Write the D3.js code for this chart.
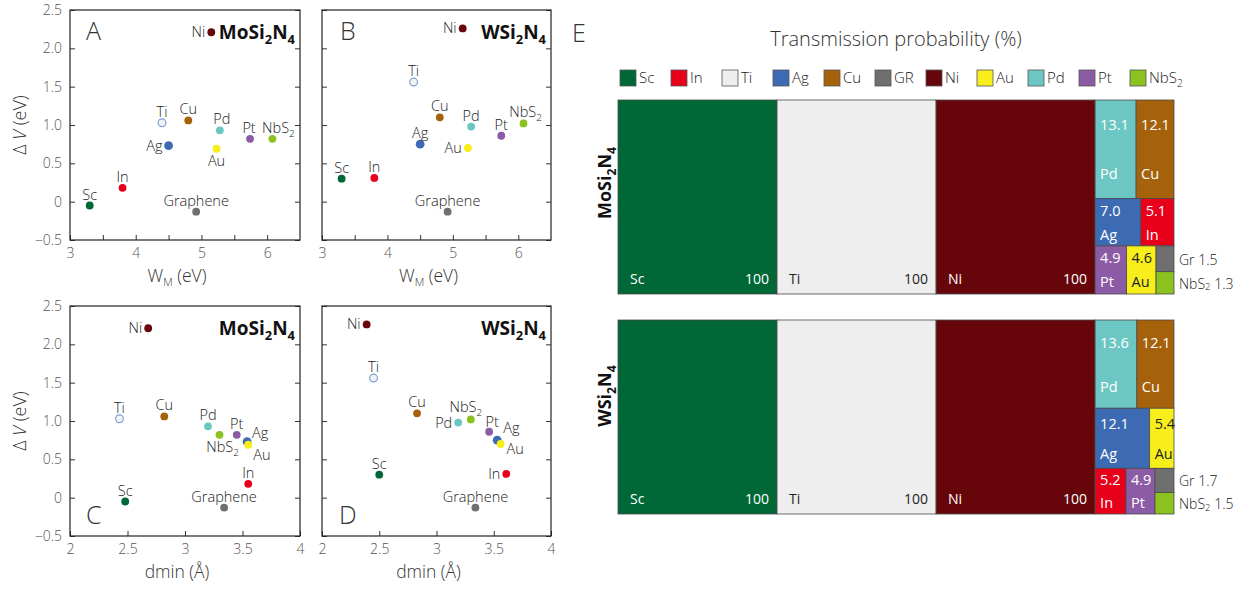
<!DOCTYPE html>
<html>
<head>
<meta charset="utf-8">
<script src="https://cdn.jsdelivr.net/npm/d3@7"></script>
<style>
body { margin: 0; background: #fff; }
svg { font-family: "Open Sans", "Noto Sans", sans-serif; }
.tick text { fill: #555; font-size: 14px; font-weight: 300; font-family: "Open Sans", sans-serif; }
.tick line { stroke: #333; }
</style>
</head>
<body>
<svg id="chart" width="1239" height="592"></svg>
<script>
// contact materials, same order everywhere
var metals = ["Sc","In","Ti","Ag","Cu","Graphene","Ni","Au","Pd","Pt","NbS2"];
var legendNames = ["Sc","In","Ti","Ag","Cu","GR","Ni","Au","Pd","Pt","NbS2"];
// work function W_M (eV)
var workFunc = [3.30, 3.80, 4.40, 4.50, 4.80, 4.92, 5.15, 5.23, 5.28, 5.74, 6.08];
// ΔV (eV)
var dvMo = [-0.05, 0.18, 1.03, 0.73, 1.06, -0.13, 2.21, 0.69, 0.93, 0.82, 0.82];
var dvW  = [ 0.30, 0.31, 1.56, 0.75, 1.10, -0.13, 2.26, 0.70, 0.98, 0.86, 1.02];
// dmin (Å)
var dminMo = [2.48, 3.55, 2.43, 3.54, 2.82, 3.34, 2.68, 3.55, 3.20, 3.45, 3.30];
var dminW  = [2.50, 3.61, 2.45, 3.53, 2.83, 3.34, 2.39, 3.56, 3.19, 3.46, 3.30];

var yTicks = [-0.5, 0, 0.5, 1, 1.5, 2, 2.5];
var wTicks = [3, 3.5, 4, 4.5, 5, 5.5, 6];
var dTicks = [2, 2.5, 3, 3.5, 4];

// transmission probability (%)
var tmNamesMo  = ["Sc","Ti","Ni","Pd","Cu","Ag","In","Pt","Au","Gr","NbS2"];
var tmValuesMo = [100, 100, 100, 13.1, 12.1, 7.0, 5.1, 4.9, 4.6, 1.5, 1.3];
var tmNamesW   = ["Sc","Ti","Ni","Pd","Cu","Ag","Au","In","Pt","Gr","NbS2"];
var tmValuesW  = [100, 100, 100, 13.6, 12.1, 12.1, 5.4, 5.2, 4.9, 1.7, 1.5];
// grouping of the small ones (rows of the right column)
var tmRowsMo = [["Pd","Cu"],["Ag","In"],["Pt","Au",["Gr","NbS2"]]];
var tmRowsW  = [["Pd","Cu"],["Ag","Au"],["In","Pt",["Gr","NbS2"]]];
var tmBig = ["Sc","Ti","Ni"];

var colorOf = {Sc:"#006837", In:"#e8001b", Ti:"#eeeeee", Ag:"#3d6bb3", Cu:"#a5620b",
               Graphene:"#6f6f6f", GR:"#6f6f6f", Gr:"#6f6f6f", Ni:"#66060a", Au:"#f7ee1b",
               Pd:"#6cc6c4", Pt:"#8c5ba6", NbS2:"#8bc21f"};

// label side for each point, per panel
var posA = ["t","t","t","l","t","t","l","b","t","t","t"];
var posB = ["t","t","t","t","t","t","l","l","t","t","t"];
var posC = ["t","t","t","tr","t","t","l","br","t","t","b"];
var posD = ["t","l","t","tr","t","t","l","r","l","t","t"];
// small label shifts where texts crowd
var nudgeA = {NbS2:[6,0], Pd:[2,0], Pt:[-1,0]};
var nudgeB = {NbS2:[2,0]};
var nudgeC = {NbS2:[3,0]};
var nudgeD = {NbS2:[-5,-1], Pt:[3,1], Ag:[1,-3], Au:[0,2]};

var svg = d3.select("#chart");

// text with subscript digits (NbS2, MoSi2N4)
function richText(sel, str, fs) {
    var parts = str.split(/(?<=[A-Za-z])(\d)/);
    var shift = fs * 0.26, down = false;
    parts.forEach(function(p, i) {
        if (p === "") return;
        var sub = i % 2 === 1;
        var t = sel.append("tspan").text(p);
        if (sub) { t.attr("font-size", fs * 0.68); if (!down) t.attr("dy", shift); down = true; }
        else { if (down) t.attr("dy", -shift); down = false; }
    });
    return sel;
}

function scatterPanel(o) {
    var x = d3.scaleLinear().domain(o.xdomain).range([o.left, o.right]);
    var y = d3.scaleLinear().domain([-0.5, 2.5]).range([o.bottom, o.top]);
    var g = svg.append("g");
    var yfmt = function(d){ return d === 0 ? "0" : d3.format(".1f")(d); };

    g.append("g").attr("transform", "translate(" + o.left + ",0)")
        .call(d3.axisLeft(y).tickValues(yTicks).tickSizeInner(-5).tickSizeOuter(0).tickPadding(8)
              .tickFormat(o.showY ? yfmt : ""));
    g.append("g").attr("transform", "translate(" + o.right + ",0)")
        .call(d3.axisRight(y).tickValues(yTicks).tickSizeInner(-5).tickSizeOuter(0).tickFormat(""));
    g.append("g").attr("transform", "translate(0," + o.bottom + ")")
        .call(d3.axisBottom(x).tickValues(o.xticks).tickSizeInner(-5).tickSizeOuter(0).tickPadding(8)
              .tickFormat(o.xfmt));
    g.selectAll(".domain").remove();
    g.append("rect").attr("x", o.left).attr("y", o.top)
        .attr("width", o.right - o.left).attr("height", o.bottom - o.top)
        .attr("fill", "none").attr("stroke", "#222").attr("stroke-width", 1.2);

    metals.forEach(function(m, i) {
        var cx = x(o.xs[i]), cy = y(o.ys[i]);
        g.append("circle").attr("cx", cx).attr("cy", cy).attr("r", m === "Ag" ? 4.4 : 3.9)
            .attr("fill", m === "Ti" ? "#f2f2f2" : colorOf[m])
            .attr("stroke", m === "Ti" ? "#809fd6" : "none").attr("stroke-width", 1.2);
        var p = o.pos[i], tx = cx, ty = cy - 6, anc = "middle";
        if (p === "l") { tx = cx - 6; ty = cy + 5; anc = "end"; }
        if (p === "r") { tx = cx + 6; ty = cy + 8; anc = "start"; }
        if (p === "b") { ty = cy + 17; }
        if (p === "tr") { tx = cx + 5; ty = cy - 4; anc = "start"; }
        if (p === "br") { tx = cx + 5; ty = cy + 15; anc = "start"; }
        var nd = (o.nudge && o.nudge[m]) || [0, 0];
        var t = g.append("text").attr("x", tx + nd[0]).attr("y", ty + nd[1]).attr("text-anchor", anc)
            .attr("font-size", 14.5).attr("font-weight", 300).attr("fill", "#222");
        richText(t, m, 14.5);
    });

    // compound name
    var c = g.append("text").attr("x", o.right - 5).attr("y", o.top + 29).attr("text-anchor", "end")
        .attr("font-size", 19).attr("font-weight", "bold").attr("fill", "#111");
    richText(c, o.compound, 19);
    // panel letter
    g.append("text").attr("x", o.letterX).attr("y", o.letterY).attr("font-size", 25)
        .attr("font-weight", 300).attr("fill", "#333").text(o.letter);

    // axis titles
    var xt = g.append("text").attr("x", (o.left + o.right) / 2 - 8).attr("y", o.bottom + 42)
        .attr("text-anchor", "middle").attr("font-size", 17.5).attr("font-weight", 300).attr("fill", "#333");
    if (o.xtitle === "W") {
        xt.append("tspan").text("W");
        xt.append("tspan").attr("font-size", 11).attr("dy", 4).text("M");
        xt.append("tspan").attr("dy", -4).text(" (eV)");
    } else {
        xt.text("dmin (Å)");
    }
    if (o.showY) {
        var yt = g.append("text").attr("transform", "translate(26," + (o.top + o.bottom) / 2 + ") rotate(-90)")
            .attr("text-anchor", "middle").attr("font-size", 18).attr("font-weight", 300).attr("fill", "#333");
        yt.append("tspan").text("Δ ");
        yt.append("tspan").attr("font-style", "italic").text("V");
        yt.append("tspan").text(" (eV)");
    }
}

var intFmt = function(d){ return d % 1 === 0 ? d : ""; };
var dFmt = function(d){ return d; };

scatterPanel({left:70, right:300, top:10, bottom:240, xdomain:[3,6.5], xticks:wTicks, xfmt:intFmt,
    xs:workFunc, ys:dvMo, pos:posA, nudge:nudgeA, compound:"MoSi2N4", letter:"A", letterX:86, letterY:40, showY:true, xtitle:"W"});
scatterPanel({left:322, right:551, top:10, bottom:240, xdomain:[3,6.5], xticks:wTicks, xfmt:intFmt,
    xs:workFunc, ys:dvW, pos:posB, nudge:nudgeB, compound:"WSi2N4", letter:"B", letterX:340, letterY:40, showY:false, xtitle:"W"});
scatterPanel({left:70, right:300, top:306, bottom:536, xdomain:[2,4], xticks:dTicks, xfmt:dFmt,
    xs:dminMo, ys:dvMo, pos:posC, nudge:nudgeC, compound:"MoSi2N4", letter:"C", letterX:86, letterY:524, showY:true, xtitle:"d"});
scatterPanel({left:322, right:551, top:306, bottom:536, xdomain:[2,4], xticks:dTicks, xfmt:dFmt,
    xs:dminW, ys:dvW, pos:posD, nudge:nudgeD, compound:"WSi2N4", letter:"D", letterX:339, letterY:524, showY:false, xtitle:"d"});

// ---------- panel E ----------
svg.append("text").attr("x", 572).attr("y", 42).attr("font-size", 25).attr("font-weight", 300)
    .attr("fill", "#333").text("E");
svg.append("text").attr("x", 896).attr("y", 46).attr("text-anchor", "middle").attr("font-size", 20)
    .attr("font-weight", 300).attr("fill", "#333").text("Transmission probability (%)");

var legX = d3.scalePoint().domain(legendNames).range([620, 1130]);
legendNames.forEach(function(n) {
    svg.append("rect").attr("x", legX(n)).attr("y", 70).attr("width", 16).attr("height", 16)
        .attr("fill", colorOf[n]).attr("stroke", "#555").attr("stroke-width", 0.8);
    var t = svg.append("text").attr("x", legX(n) + 19).attr("y", 83).attr("font-size", 15)
        .attr("font-weight", 300).attr("fill", "#222");
    richText(t, n, 15);
});

var refTotal = d3.sum(tmValuesMo);

function makeTile(total) {
    return function(node, x0, y0, x1, y1) {
        if (node.depth === 0) {
            // same width scale for both maps
            var kx = (x1 - x0) / total, x = x0;
            node.children.forEach(function(c, i) {
                c.x0 = x; c.y0 = y0; c.y1 = y1;
                c.x1 = i === node.children.length - 1 ? x1 : x + c.value * kx;
                x = c.x1;
            });
        } else if (node.depth % 2 === 1) d3.treemapSlice(node, x0, y0, x1, y1);
        else d3.treemapDice(node, x0, y0, x1, y1);
    };
}

function treemapPanel(names, values, rows, top, compound, labelMid) {
    var val = {};
    names.forEach(function(n, i){ val[n] = values[i]; });
    var leaf = function(n){ return {name: n, value: val[n]}; };
    var data = {children: tmBig.map(leaf).concat([{
        children: rows.map(function(r) {
            return {children: r.map(function(it) {
                return Array.isArray(it) ? {children: it.map(leaf)} : leaf(it);
            })};
        })
    }])};
    var root = d3.hierarchy(data).sum(function(d){ return d.value || 0; });
    d3.treemap().size([556, 194]).tile(makeTile(refTotal))(root);

    var g = svg.append("g").attr("transform", "translate(618," + top + ")");
    root.leaves().forEach(function(d) {
        var n = d.data.name, w = d.x1 - d.x0, h = d.y1 - d.y0;
        g.append("rect").attr("x", d.x0).attr("y", d.y0).attr("width", w).attr("height", h)
            .attr("fill", colorOf[n]).attr("stroke", "#4a4a4a").attr("stroke-width", 0.8);
        var tc = (n === "Ti" || n === "Au") ? "#222" : "#fff";
        if (d.depth === 1) {
            g.append("text").attr("x", d.x0 + 12).attr("y", d.y1 - 10).attr("font-size", 14)
                .attr("fill", tc).text(n);
            g.append("text").attr("x", d.x1 - 8).attr("y", d.y1 - 10).attr("font-size", 14)
                .attr("text-anchor", "end").attr("fill", tc).text(d.value);
        } else if (d.depth === 4) {
            var t = g.append("text").attr("x", d.x1 + 5).attr("y", (d.y0 + d.y1) / 2)
                .attr("dominant-baseline", "central").attr("font-size", 14).attr("font-weight", 300)
                .attr("fill", "#222");
            richText(t, (n === "Gr" ? "Gr" : "NbS2") + " " + d3.format(".1f")(d.value), 14);
        } else {
            g.append("text").attr("x", d.x0 + 5).attr("y", d.y0 + 0.25 * h)
                .attr("dominant-baseline", "central").attr("font-size", 14.5).attr("fill", tc)
                .text(d3.format(".1f")(d.value));
            g.append("text").attr("x", d.x0 + 5).attr("y", d.y0 + 0.75 * h)
                .attr("dominant-baseline", "central").attr("font-size", 14.5).attr("fill", tc).text(n);
        }
    });

    var c = svg.append("text").attr("transform", "translate(611," + (top + labelMid) + ") rotate(-90)")
        .attr("text-anchor", "middle").attr("font-size", 18).attr("font-weight", "bold").attr("fill", "#111");
    richText(c, compound, 18);
}

treemapPanel(tmNamesMo, tmValuesMo, tmRowsMo, 100, "MoSi2N4", 83);
treemapPanel(tmNamesW, tmValuesW, tmRowsW, 320, "WSi2N4", 76);
</script>
</body>
</html>
